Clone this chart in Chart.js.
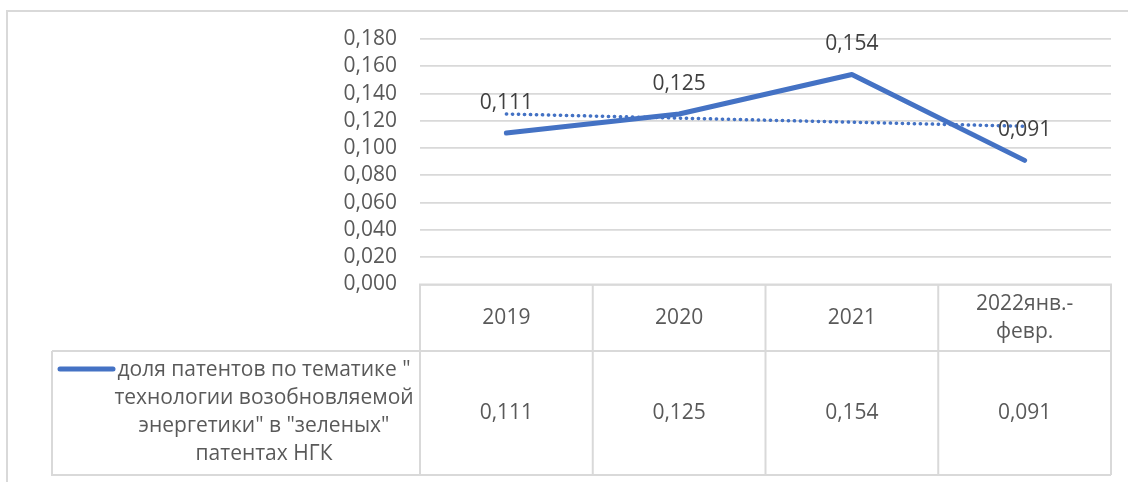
<!DOCTYPE html>
<html lang="ru">
<head>
<meta charset="utf-8">
<title>Доля патентов</title>
<script src="https://cdn.jsdelivr.net/npm/chart.js@4/dist/chart.umd.min.js"></script>
<style>
  html, body { margin: 0; padding: 0; background: #ffffff; }
  #wrap { position: relative; width: 1128px; height: 482px; }
</style>
</head>
<body>
<div id="wrap"><canvas id="chart" width="1128" height="482"></canvas></div>
<script>
// Categories (header row of the data table; "\n" splits a cell into lines)
const categories = ['2019', '2020', '2021', '2022янв.-\nфевр.'];
// Share of renewable-energy patents among "green" patents
const shareValues = [0.111, 0.125, 0.154, 0.091];
// Linear trend line: first and last points
const trendValues = [0.125, null, null, 0.116];
// Series name shown in the legend cell of the table
const seriesNameLines = [
  'доля патентов по тематике "',
  'технологии возобновляемой',
  'энергетики" в "зеленых"',
  'патентах НГК'
];
// Value axis ticks
const yMin = 0, yMax = 0.18, yStep = 0.02;

const FONT = '"Open Sans", "Noto Sans", "Liberation Sans", sans-serif';
const FONT_SIZE = 21;
const BLUE = '#4472C4';
const GRID = '#d9d9d9';
const TEXT = '#595959';
const LABEL = '#404040';

const fmt = v => v.toFixed(3).replace('.', ',');

// Frame of the chart object and the data table below the plot
const tablePlugin = {
  id: 'dataTable',
  beforeDraw(chart) {
    const ctx = chart.ctx;
    ctx.save();
    ctx.strokeStyle = GRID;
    ctx.lineWidth = 2;
    ctx.beginPath();
    ctx.moveTo(7, chart.height);
    ctx.lineTo(7, 11);
    ctx.lineTo(chart.width, 11);
    ctx.stroke();
    ctx.restore();
  },
  afterDraw(chart) {
    const ctx = chart.ctx;
    const area = chart.chartArea;
    const x = chart.scales.x;
    const half = (x.getPixelForValue(1) - x.getPixelForValue(0)) / 2;
    const top = area.bottom;
    const rowSplit = 351;
    const bottom = 475;
    const legendLeft = 52;
    const right = x.getPixelForValue(categories.length - 1) + half;

    ctx.save();
    ctx.strokeStyle = GRID;
    ctx.lineWidth = 2;
    ctx.beginPath();
    // header row frame
    ctx.moveTo(area.left, bottom);
    ctx.lineTo(area.left, top);
    ctx.lineTo(right, top);
    ctx.lineTo(right, bottom);
    // data row frame
    ctx.moveTo(legendLeft, rowSplit);
    ctx.lineTo(right, rowSplit);
    ctx.moveTo(legendLeft, rowSplit);
    ctx.lineTo(legendLeft, bottom);
    ctx.lineTo(right, bottom);
    // column separators
    for (let i = 1; i < categories.length; i++) {
      const cx = x.getPixelForValue(i) - half;
      ctx.moveTo(cx, top);
      ctx.lineTo(cx, bottom);
    }
    ctx.stroke();

    ctx.fillStyle = TEXT;
    ctx.font = FONT_SIZE + 'px ' + FONT;
    ctx.textAlign = 'center';
    ctx.textBaseline = 'middle';
    const lh = 28;
    categories.forEach((c, i) => {
      const cx = x.getPixelForValue(i);
      const lines = c.split('\n');
      const cy = (top + rowSplit) / 2 - (lines.length - 1) * lh / 2;
      lines.forEach((l, j) => ctx.fillText(l, cx, cy + j * lh));
      ctx.fillText(fmt(shareValues[i]), cx, (rowSplit + bottom) / 2);
    });

    // legend key and series name
    const textCx = 264;
    const firstY = 370;
    seriesNameLines.forEach((l, j) => ctx.fillText(l, textCx, firstY + j * lh));
    ctx.strokeStyle = BLUE;
    ctx.lineWidth = 5;
    ctx.lineCap = 'round';
    ctx.beginPath();
    ctx.moveTo(60, 369);
    ctx.lineTo(113, 369);
    ctx.stroke();
    ctx.restore();
  }
};

// Value labels above the points of the main series
const valueLabels = {
  id: 'valueLabels',
  afterDatasetsDraw(chart) {
    const ctx = chart.ctx;
    const meta = chart.getDatasetMeta(0);
    ctx.save();
    ctx.fillStyle = LABEL;
    ctx.font = FONT_SIZE + 'px ' + FONT;
    ctx.textAlign = 'center';
    ctx.textBaseline = 'middle';
    meta.data.forEach((pt, i) => {
      ctx.fillText(fmt(shareValues[i]), pt.x, pt.y - 30);
    });
    ctx.restore();
  }
};

new Chart(document.getElementById('chart'), {
  type: 'line',
  data: {
    labels: categories,
    datasets: [
      {
        label: seriesNameLines.join(' '),
        data: shareValues,
        borderColor: BLUE,
        borderWidth: 5,
        borderCapStyle: 'round',
        borderJoinStyle: 'round',
        pointRadius: 0,
        tension: 0,
        fill: false,
        order: 0
      },
      {
        label: 'Линейная',
        data: trendValues,
        borderColor: BLUE,
        borderWidth: 3.5,
        borderDash: [0.3, 5.7],
        borderCapStyle: 'round',
        pointRadius: 0,
        spanGaps: true,
        fill: false,
        order: 1
      }
    ]
  },
  options: {
    responsive: false,
    animation: false,
    layout: { padding: { top: 39, bottom: 197.5, left: 0, right: 17 } },
    plugins: {
      legend: { display: false },
      tooltip: { enabled: false }
    },
    scales: {
      x: {
        type: 'category',
        offset: true,
        display: false
      },
      y: {
        min: yMin,
        max: yMax,
        afterFit(scale) { scale.width = 420; },
        border: { display: false },
        grid: { color: GRID, lineWidth: 1.8, drawTicks: false },
        ticks: {
          stepSize: yStep,
          autoSkip: false,
          padding: 23,
          color: TEXT,
          font: { family: FONT, size: FONT_SIZE },
          callback: v => fmt(v)
        }
      }
    }
  },
  plugins: [tablePlugin, valueLabels]
});
</script>
</body>
</html>
